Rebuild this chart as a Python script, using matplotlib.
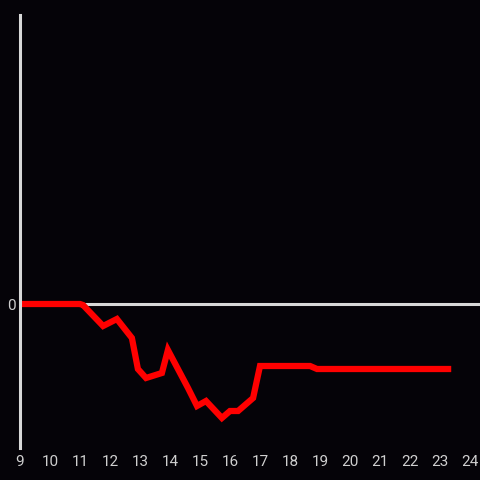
import matplotlib
matplotlib.use("Agg")
import matplotlib.pyplot as plt

# hour of day vs. value
hours = [9.0, 11.0, 11.1, 11.77, 12.23, 12.73, 12.93, 13.2, 13.73, 13.93,
         14.6, 14.9, 15.2, 15.73, 16.0, 16.27, 16.77, 17.0, 18.67, 18.9, 23.27]
values = [0, 0, -1, -22, -15, -34, -65, -74, -69, -46,
          -84, -102, -97, -114, -107, -107, -94, -62, -62, -65, -65]
xticks = list(range(9, 25))
yticks = [0]

BG = "#050308"
AXIS = "#d8d8d8"
TEXT = "#cfcfcf"

fig = plt.figure(figsize=(4.8, 4.8), dpi=100, facecolor=BG)
ax = fig.add_axes([20 / 480, 32 / 480, 460 / 480, 433 / 480], facecolor=BG)

ax.axhline(0, color=AXIS, lw=2.2, zorder=1)
ax.plot(hours, values, color="#ff0000", lw=4.5, solid_joinstyle="miter", zorder=2)

ax.set_xlim(9, 9 + 460 / 30)
ax.set_ylim(-144, 289)
ax.set_xticks(xticks)
ax.set_xticklabels([str(h) for h in xticks])
ax.set_yticks(yticks)
ax.set_yticklabels(["0"])
ax.tick_params(colors=TEXT, length=0, labelsize=11, pad=5)
ax.tick_params(axis="y", pad=3)
for lab in ax.get_xticklabels() + ax.get_yticklabels():
    lab.set_fontfamily("Roboto")
    lab.set_color(TEXT)

for side in ["top", "right", "bottom"]:
    ax.spines[side].set_visible(False)
ax.spines["left"].set_color(AXIS)
ax.spines["left"].set_linewidth(2.2)

fig.savefig("out.png", dpi=100, facecolor=BG)
